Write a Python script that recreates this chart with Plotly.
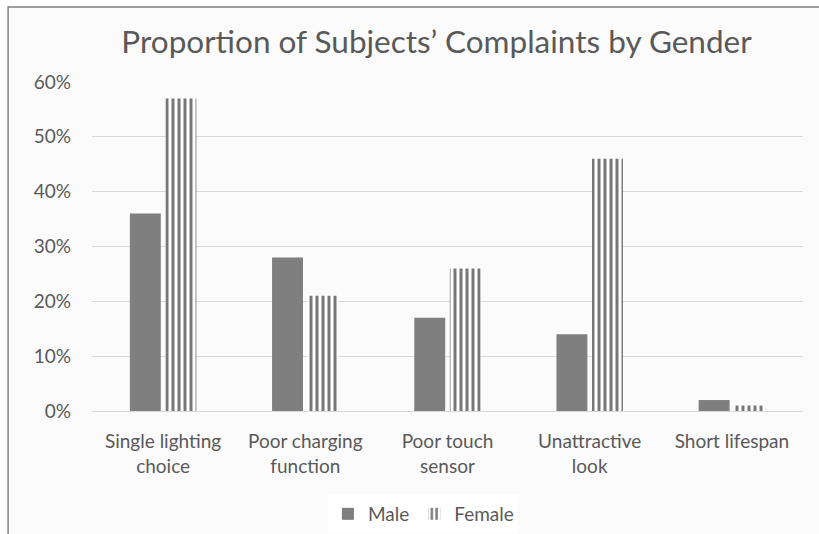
import plotly.graph_objects as go

categories = ["Single lighting<br>choice", "Poor charging<br>function", "Poor touch<br>sensor",
              "Unattractive<br>look", "Short lifespan"]
male = [0.36, 0.28, 0.17, 0.14, 0.02]
female = [0.57, 0.21, 0.26, 0.46, 0.01]
y_ticks = [0, 0.1, 0.2, 0.3, 0.4, 0.5, 0.6]

GREY = '#7f7f7f'
TEXT = '#595959'
FONT = 'Lato, Open Sans, sans-serif'

fig = go.Figure()

fig.add_trace(go.Bar(
    x=categories, y=male, name='Male',
    marker=dict(color=GREY, line=dict(width=0))
))

fig.add_trace(go.Bar(
    x=categories, y=female, name='Female',
    marker=dict(
        color='white',
        line=dict(width=0),
        pattern=dict(shape='|', fgcolor='#777777', bgcolor='white', fgopacity=1,
                     size=6, solidity=0.5, fillmode='replace')
    )
))

fig.update_layout(
    width=819, height=534,
    barmode='group', bargap=0.5, bargroupgap=0.13,
    paper_bgcolor='white', plot_bgcolor='rgba(0,0,0,0)',
    margin=dict(l=92, r=16, t=82, b=123),
    font=dict(family=FONT, color=TEXT, size=19),
    title=dict(text="Proportion of Subjects’ Complaints by Gender",
               x=0.533, xanchor='center', y=0.921, yanchor='middle',
               font=dict(size=31.5, color=TEXT, family=FONT)),
    xaxis=dict(showgrid=False, showline=True, linecolor='#d9d9d9', linewidth=1,
               ticks='', automargin=False, ticklabelstandoff=13,
               tickfont=dict(size=19, color=TEXT)),
    yaxis=dict(range=[0, 0.6], tickvals=y_ticks, tickformat='.0%',
               showgrid=True, gridcolor='#d9d9d9', gridwidth=1, zeroline=False,
               ticks='', automargin=False, ticklabelstandoff=20,
               tickfont=dict(size=19, color=TEXT)),
    legend=dict(orientation='h', x=0.517, xanchor='center', xref='container',
                y=0.0375, yanchor='middle', yref='container',
                bgcolor='white', font=dict(size=19, color=TEXT), traceorder='normal',
                itemwidth=30),
    shapes=[
        dict(type='rect', xref='paper', yref='paper', x0=-0.118, x1=1.5, y0=1.228, y1=-0.8,
             fillcolor='#fbfbfb', line=dict(color='#808080', width=1.5), layer='below'),
    ]
)

# drop the default page margin so the figure sits at the window's top-left corner
fig.write_html("out.html", config={'displayModeBar': False},
               post_script="document.body.style.margin='0';document.body.style.overflow='hidden';")
